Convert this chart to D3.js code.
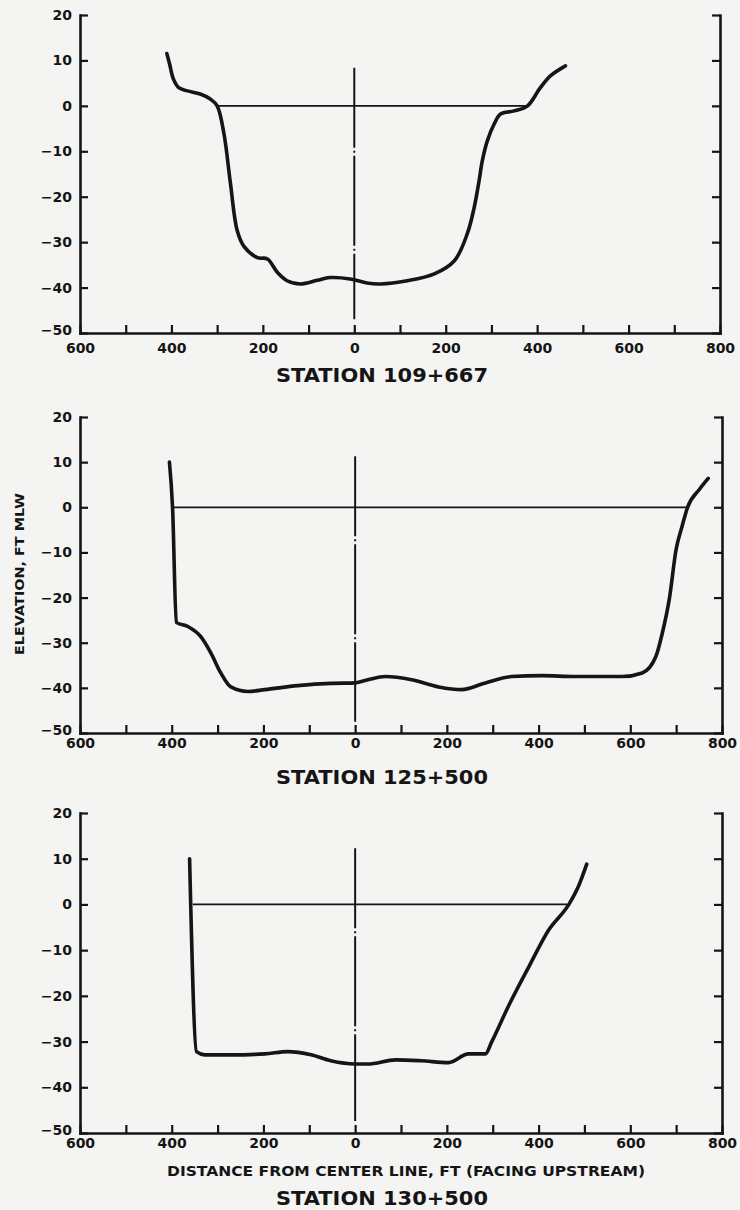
<!DOCTYPE html>
<html>
<head>
<meta charset="utf-8">
<script src="https://cdn.jsdelivr.net/npm/d3@7"></script>
<style>
  html, body { margin: 0; padding: 0; background: #f4f4f2; }
  svg { display: block; }
  text { font-family: "DejaVu Sans", sans-serif; font-weight: bold; fill: #151515; }
</style>
</head>
<body>
<svg id="chart" width="740" height="1210"></svg>
<script>
// axis ticks (distance is signed: left of center line negative)
const xTicks = d3.range(-600, 801, 100);
const xLabelled = [-600, -400, -200, 0, 200, 400, 600, 800];
const yTicks = [20, 10, 0, -10, -20, -30, -40, -50];

// Station 109+667
const st1Name = 'STATION 109+667';
const st1Dist = [-410, -404, -396, -384, -365, -337, -315, -300, -285, -271, -256, -241, -212, -190, -168, -147, -118, -81, -53, -9, 28, 57, 116, 175, 219, 247, 262, 273, 280, 291, 306, 320, 350, 379, 407, 429, 462];
const st1Elev = [11.5, 9.2, 6, 4, 3.3, 2.6, 1.5, 0, -6.2, -17, -27.5, -31, -33.4, -33.7, -36.7, -38.5, -39.2, -38.4, -37.8, -38.1, -39, -39.2, -38.5, -37, -34.1, -28.2, -22.5, -16.5, -12.1, -7.7, -4, -1.8, -1.1, 0, 4, 6.6, 8.8];
const st1Water = [-300, 379];

// Station 125+500
const st2Name = 'STATION 125+500';
const st2Dist = [-405, -398, -390, -365, -337, -315, -293, -271, -234, -197, -125, -53, 0, 28, 66, 123, 182, 232, 284, 341, 407, 481, 582, 626, 656, 670, 685, 700, 713, 725, 751, 770];
const st2Elev = [10, -0.4, -25.5, -26.4, -28.6, -32.2, -36.7, -39.8, -40.8, -40.4, -39.5, -39, -38.9, -38.2, -37.5, -38.2, -39.8, -40.4, -38.9, -37.5, -37.3, -37.5, -37.5, -36.7, -33, -27.8, -20.4, -9.3, -4.2, 0, 4, 6.4];
const st2Water = [-398, 725];

// Station 130+500
const st3Name = 'STATION 130+500';
const st3Dist = [-361, -346, -328, -271, -197, -147, -96, -53, 0, 28, 88, 144, 204, 247, 284, 298, 335, 379, 422, 466, 488, 505];
const st3Elev = [10, -32.2, -32.9, -32.9, -32.7, -32.2, -32.9, -34.2, -34.9, -34.9, -34, -34.2, -34.6, -32.7, -32.7, -30, -22.1, -13.6, -5.6, 0, 4.2, 8.8];
const st3Water = [-354, 462];

const ink = '#151515';
const svg = d3.select('#chart');

// panel frames on the page; steep walls keep their corners with monotone
const panels = [
  { name: st1Name, dist: st1Dist, elev: st1Elev, water: st1Water, top: 15, bottom: 333, left: 80, right: 720, labelPad: 10, titleY: 382, cl: [8.4, -47], curve: d3.curveCatmullRom.alpha(0.5) },
  { name: st2Name, dist: st2Dist, elev: st2Elev, water: st2Water, top: 417, bottom: 733, left: 80, right: 722, labelPad: 5, titleY: 784, cl: [11.3, -47.5], curve: d3.curveMonotoneX },
  { name: st3Name, dist: st3Dist, elev: st3Elev, water: st3Water, top: 813, bottom: 1133, left: 80, right: 722, labelPad: 5, titleY: 1205, cl: [12.3, -47.4], curve: d3.curveMonotoneX }
];

panels.forEach((p, i) => {
  const x = d3.scaleLinear().domain([-600, 800]).range([p.left, p.right]);
  const y = d3.scaleLinear().domain([-50, 20]).range([p.bottom, p.top]);
  const g = svg.append('g').attr('class', 'panel panel-' + i);

  // left axis, ticks inward
  const gl = g.append('g')
    .attr('transform', `translate(${p.left},0)`)
    .call(d3.axisLeft(y).tickValues(yTicks).tickSizeInner(-8).tickSizeOuter(0).tickPadding(8).tickFormat(d3.format('d')));
  // lowest label sits a little high so it clears the 600 below it
  gl.selectAll('.tick text').filter(d => d === -50).attr('dy', '0.1em');

  // bottom axis
  const gb = g.append('g')
    .attr('transform', `translate(0,${p.bottom})`)
    .call(d3.axisBottom(x).tickValues(xTicks).tickSizeInner(-8).tickSizeOuter(0).tickPadding(p.labelPad)
      .tickFormat(d => xLabelled.includes(d) ? Math.abs(d) : ''));

  // right axis, ticks inward, no labels
  const gr = g.append('g')
    .attr('transform', `translate(${p.right},0)`)
    .call(d3.axisLeft(y).tickValues(yTicks).tickSizeInner(8).tickSizeOuter(0).tickFormat(''));

  [gl, gb, gr].forEach(a => {
    a.select('.domain').attr('stroke', ink).attr('stroke-width', 2.6).attr('stroke-linecap', 'square');
    a.selectAll('.tick line').attr('stroke', ink).attr('stroke-width', 2.2);
    a.selectAll('.tick text').attr('font-size', 14).attr('font-family', '"DejaVu Sans", sans-serif').attr('font-weight', 'bold').attr('fill', ink);
  });

  // water surface (0 ft MLW)
  g.append('line')
    .attr('x1', x(p.water[0])).attr('x2', x(p.water[1]))
    .attr('y1', y(0)).attr('y2', y(0))
    .attr('stroke', ink).attr('stroke-width', 1.7);

  // center line
  g.append('line')
    .attr('x1', x(0)).attr('x2', x(0))
    .attr('y1', y(p.cl[0])).attr('y2', y(p.cl[1]))
    .attr('stroke', ink).attr('stroke-width', 2)
    .attr('stroke-dasharray', '90,3,2,3').attr('stroke-dashoffset', 10);

  // channel cross section
  const pts = p.dist.map((d, k) => [d, p.elev[k]]);
  g.append('path')
    .datum(pts)
    .attr('fill', 'none')
    .attr('stroke', ink).attr('stroke-width', 3.6)
    .attr('stroke-linecap', 'round').attr('stroke-linejoin', 'round')
    .attr('d', d3.line().x(d => x(d[0])).y(d => y(d[1])).curve(p.curve));

  // station title
  g.append('text')
    .attr('x', 382).attr('y', p.titleY)
    .attr('text-anchor', 'middle')
    .attr('font-size', 20)
    .attr('textLength', 212).attr('lengthAdjust', 'spacingAndGlyphs')
    .text(p.name);
});

// axis titles
svg.append('text')
  .attr('transform', 'translate(24,574) rotate(-90)')
  .attr('text-anchor', 'middle')
  .attr('font-size', 13)
  .attr('textLength', 162).attr('lengthAdjust', 'spacingAndGlyphs')
  .text('ELEVATION, FT MLW');

svg.append('text')
  .attr('x', 406).attr('y', 1176)
  .attr('text-anchor', 'middle')
  .attr('font-size', 13.5)
  .attr('textLength', 478).attr('lengthAdjust', 'spacingAndGlyphs')
  .text('DISTANCE FROM CENTER LINE, FT  (FACING UPSTREAM)');
</script>
</body>
</html>
